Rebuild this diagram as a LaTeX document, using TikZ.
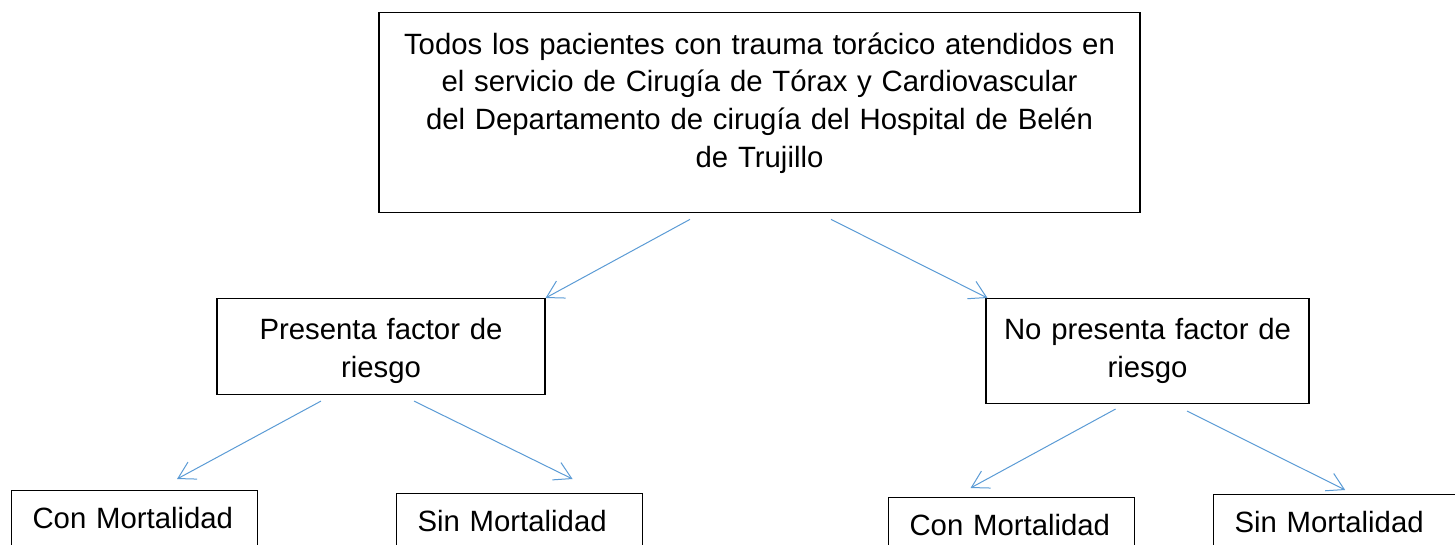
\documentclass[tikz,border=0pt]{standalone}
\usepackage{fontspec}
\setmainfont{Liberation Sans}
\usepackage{tikz}
\usetikzlibrary{positioning}
\usetikzlibrary{arrows.meta}
\definecolor{arrowblue}{RGB}{91,155,213}
\tikzset{basic/.style={draw,line width=0.8pt,inner sep=0pt,font=\fontsize{22}{28.3}\selectfont}}
\tikzset{topbox/.style={basic,rectangle,align=center,text height=31pt}}
\tikzset{leafbox/.style={basic,rectangle,anchor=north west,align=left,inner xsep=15.75pt,text width=153pt,text height=28.5pt,text depth=52.5pt}}
\tikzset{link/.style={draw,->,arrowblue,line width=0.75pt}}

\begin{document}
\begin{tikzpicture}[>={Straight Barb[length=12.5pt,width=14.5pt]},x=0.75pt,y=-0.75pt]
        \useasboundingbox (0,0) rectangle (1455,545);
        \clip (0,0) rectangle (1455,545);
        \node[topbox,anchor=north,minimum width=570.75pt,text width=540pt,text depth=119pt] (all) at (759.5,12.3) {Todos los pacientes con trauma torácico atendidos en\\ el servicio de Cirugía de Tórax y Cardiovascular\\ del Departamento de cirugía del Hospital de Belén\\ de Trujillo};
        \node[topbox,anchor=north,minimum width=246pt,text width=225pt,text depth=41pt] (risk) at (381,298) {Presenta factor de\\ riesgo};
        \node[topbox,anchor=north,minimum width=242.25pt,text width=225pt,text depth=47.75pt] (norisk) at (1147.5,298) {No presenta factor de\\ riesgo};
        \node[leafbox] (riskdead) at (11,489.5) {Con Mortalidad};
        \node[leafbox] (riskalive) at (396,492.5) {Sin Mortalidad};
        \node[leafbox] (noriskdead) at (888,496.5) {Con Mortalidad};
        \node[leafbox,text width=160pt] (noriskalive) at (1213,494) {Sin Mortalidad};
            \path[link] ([shift={(-69.5,6)}]all.south) -- (risk.north east);
            \path[link] ([shift={(71.5,6)}]all.south) -- ([xshift=1.5pt]norisk.north west);
            \path[link] ([shift={(-60,6)}]risk.south) -- ([shift={(42.5,-10.5)}]riskdead.north);
            \path[link] ([shift={(33,6)}]risk.south) -- ([shift={(53,-13.5)}]riskalive.north);
            \path[link] ([shift={(-32,5)}]norisk.south) -- ([shift={(-41,-8.5)}]noriskdead.north);
            \path[link] ([shift={(39.5,7)}]norisk.south) -- ([shift={(4,-4)}]noriskalive.north);
    \end{tikzpicture}
\end{document}
